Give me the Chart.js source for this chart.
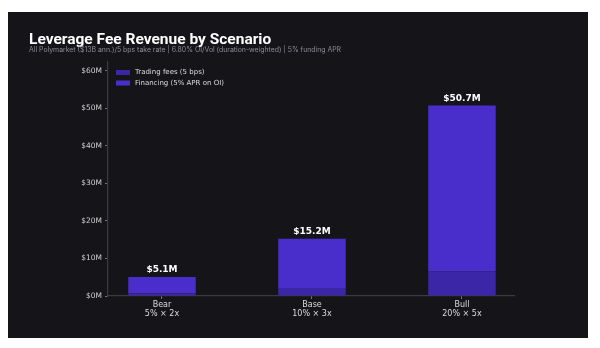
<!DOCTYPE html>
<html>
<head>
<meta charset="utf-8">
<script src="https://cdn.jsdelivr.net/npm/chart.js@4.4.1/dist/chart.umd.min.js"></script>
<style>
  html, body { margin: 0; padding: 0; background: #ffffff; }
  body { width: 600px; height: 348px; position: relative; overflow: hidden; }
  #panel { position: absolute; left: 8px; top: 12px; width: 580px; height: 326px; background: #151419; }
  #c { display: block; }
</style>
</head>
<body>
<div id="panel"><canvas id="c" width="580" height="326"></canvas></div>
<script>
// ---- data ----
const categories = ["Bear", "Base", "Bull"];
const scenarioParams = ["5% × 2x", "10% × 3x", "20% × 5x"];
const tradingFees = [0.65, 1.95, 6.5];      // $M
const financing = [4.42, 13.26, 44.2];       // $M
const totals = [5.1, 15.2, 50.7];            // $M labels
const yTickValues = [0, 10, 20, 30, 40, 50, 60];
const seriesNames = ["Trading fees (5 bps)", "Financing (5% APR on OI)"];
const titleText = "Leverage Fee Revenue by Scenario";
const subtitleText = "All Polymarket ($13B ann.)/5 bps take rate | 6.80% OI/Vol (duration-weighted) | 5% funding APR";

const colTrading = "#3c26a8";
const colFinancing = "#4a2ecb";
const dv = "'DejaVu Sans', sans-serif";

const overlay = {
  id: "overlay",
  afterDraw(chart) {
    const ctx = chart.ctx;
    ctx.save();
    // title
    ctx.fillStyle = "#ffffff";
    ctx.textBaseline = "alphabetic";
    ctx.textAlign = "left";
    ctx.font = "700 15.5px Roboto, sans-serif";
    ctx.fillText(titleText, 21, 32);
    ctx.fillStyle = "#8d8c93";
    ctx.font = "400 6.9px Inter, sans-serif";
    ctx.fillText(subtitleText, 21, 40);
    // legend
    const colors = [colTrading, colFinancing];
    ctx.font = "7px " + dv;
    ctx.textBaseline = "middle";
    seriesNames.forEach((n, i) => {
      const y = 60.5 + i * 10.5;
      ctx.fillStyle = colors[i];
      ctx.fillRect(108, y - 2.5, 14, 5);
      ctx.fillStyle = "#dddddd";
      ctx.fillText(n, 127, y);
    });
    // totals
    ctx.font = "bold 9px " + dv;
    ctx.fillStyle = "#ffffff";
    ctx.textAlign = "center";
    ctx.textBaseline = "alphabetic";
    totals.forEach((t, i) => {
      const x = chart.scales.x.getPixelForValue(i);
      const y = chart.scales.y.getPixelForValue(tradingFees[i] + financing[i]);
      ctx.fillText("$" + t.toFixed(1) + "M", x, y - 5);
    });
    ctx.restore();
  }
};

new Chart(document.getElementById("c"), {
  type: "bar",
  data: {
    datasets: [
      { label: seriesNames[0], data: categories.map((c, i) => ({ x: i, y: tradingFees[i] })),
        backgroundColor: colTrading, barPercentage: 0.45, categoryPercentage: 1.0, borderWidth: 0 },
      { label: seriesNames[1], data: categories.map((c, i) => ({ x: i, y: financing[i] })),
        backgroundColor: colFinancing, barPercentage: 0.45, categoryPercentage: 1.0, borderWidth: 0 }
    ]
  },
  options: {
    responsive: false,
    animation: false,
    layout: { padding: { left: 0, top: 50, right: 74, bottom: 0 } },
    plugins: { legend: { display: false }, tooltip: { enabled: false }, title: { display: false } },
    scales: {
      x: {
        type: "linear", stacked: true, min: -0.36, max: 2.347, offset: false,
        afterBuildTicks: s => { s.ticks = categories.map((c, i) => ({ value: i })); },
        afterFit: s => { s.height = 42; },
        ticks: {
          autoSkip: false, maxRotation: 0, padding: 1,
          color: "#dcdcdc", font: { family: dv, size: 8, lineHeight: 1.2 },
          callback: (v) => [categories[v], scenarioParams[v]]
        },
        grid: { offset: false, drawOnChartArea: false, drawTicks: true, tickLength: 3, color: "#8a8a8a", tickWidth: 0.8 },
        border: { display: true, color: "#3b3a40", width: 1.2 }
      },
      y: {
        stacked: true, min: 0, max: 62.3,
        afterBuildTicks: s => { s.ticks = yTickValues.map(v => ({ value: v })); },
        afterFit: s => { s.width = 100; },
        ticks: {
          padding: 3, color: "#cfcfcf", font: { family: dv, size: 7.5 },
          callback: v => "$" + v + "M"
        },
        grid: { drawOnChartArea: false, drawTicks: true, tickLength: 3, color: "#8a8a8a", tickWidth: 0.8 },
        border: { display: true, color: "#3b3a40", width: 1.2 }
      }
    }
  },
  plugins: [overlay]
});
</script>
</body>
</html>
